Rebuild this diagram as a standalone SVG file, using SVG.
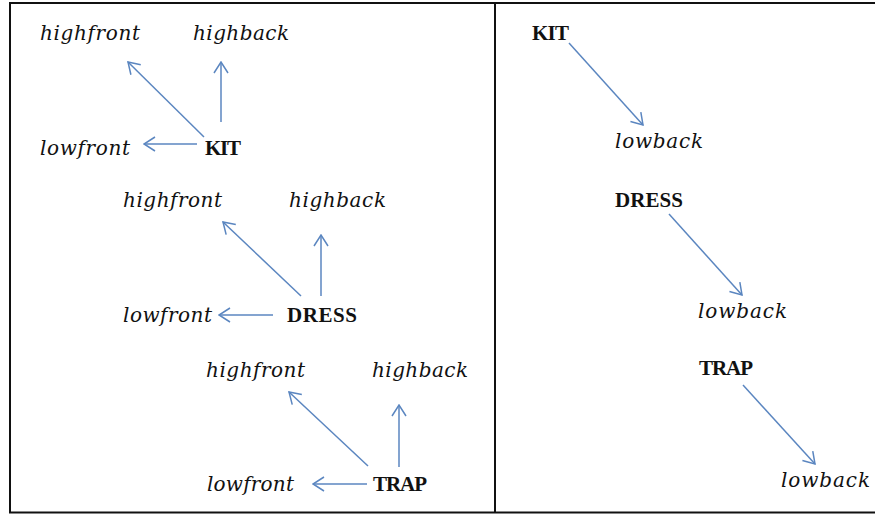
<svg xmlns="http://www.w3.org/2000/svg" width="875" height="516" viewBox="0 0 875 516">
<style>
.lab{font-family:"DejaVu Serif","Liberation Serif",serif;font-style:italic;font-size:20px;fill:#111}
.cap{font-family:"Liberation Serif","Times New Roman",serif;font-weight:bold;font-size:21px;fill:#111}
.con line{stroke:#5B86C0;stroke-width:1.5;fill:none;marker-end:url(#ah)}
.frame{stroke:#111;stroke-width:2;fill:none}
</style>
<defs>
<marker id="ah" markerUnits="userSpaceOnUse" viewBox="0 0 13 16" refX="12" refY="8" markerWidth="13" markerHeight="16" orient="auto">
<path d="M1,1 L12,8 L1,15" fill="none" stroke="#5B86C0" stroke-width="1.5"/>
</marker>
</defs>
<rect width="875" height="516" fill="#fff"/>
<g id="frame">
<line class="frame" x1="9" y1="3" x2="875" y2="3"/>
<line class="frame" x1="10" y1="2" x2="10" y2="513"/>
<line class="frame" x1="9" y1="512.5" x2="875" y2="512.5"/>
<line class="frame" x1="495" y1="3" x2="495" y2="512"/>
</g>
<g id="kit-left">
<text class="lab" x="40" y="40" textLength="100">highfront</text>
<text class="lab" x="193" y="40" textLength="96">highback</text>
<text class="lab" x="40" y="155" textLength="90">lowfront</text>
<text class="cap" x="205" y="155" textLength="36">KIT</text>
</g>
<g id="dress-left">
<text class="lab" x="123" y="207" textLength="99">highfront</text>
<text class="lab" x="289" y="207" textLength="97">highback</text>
<text class="lab" x="123" y="322" textLength="89">lowfront</text>
<text class="cap" x="287" y="322" textLength="70">DRESS</text>
</g>
<g id="trap-left">
<text class="lab" x="206" y="377" textLength="99">highfront</text>
<text class="lab" x="372" y="377" textLength="96">highback</text>
<text class="lab" x="207" y="491" textLength="87">lowfront</text>
<text class="cap" x="373" y="491" textLength="54">TRAP</text>
</g>
<g id="kit-right">
<text class="cap" x="532" y="40" textLength="37">KIT</text>
<text class="lab" x="615" y="148" textLength="88">lowback</text>
</g>
<g id="dress-right">
<text class="cap" x="615" y="207" textLength="68">DRESS</text>
<text class="lab" x="698" y="318" textLength="89">lowback</text>
</g>
<g id="trap-right">
<text class="cap" x="699" y="375" textLength="54">TRAP</text>
<text class="lab" x="781" y="487" textLength="89">lowback</text>
</g>
<g id="connectors" class="con">
<line x1="204" y1="137" x2="128" y2="62"/>
<line x1="221" y1="122" x2="221" y2="62"/>
<line x1="197" y1="144" x2="144" y2="144"/>
<line x1="301" y1="296" x2="223" y2="222"/>
<line x1="321" y1="296" x2="321" y2="235"/>
<line x1="273" y1="315" x2="219" y2="315"/>
<line x1="368" y1="466" x2="289" y2="392"/>
<line x1="399" y1="467" x2="399" y2="405"/>
<line x1="367" y1="484" x2="313" y2="484"/>
<line x1="569" y1="43" x2="643" y2="125"/>
<line x1="669" y1="214" x2="742" y2="295"/>
<line x1="743" y1="385" x2="815" y2="464"/>
</g>
</svg>
